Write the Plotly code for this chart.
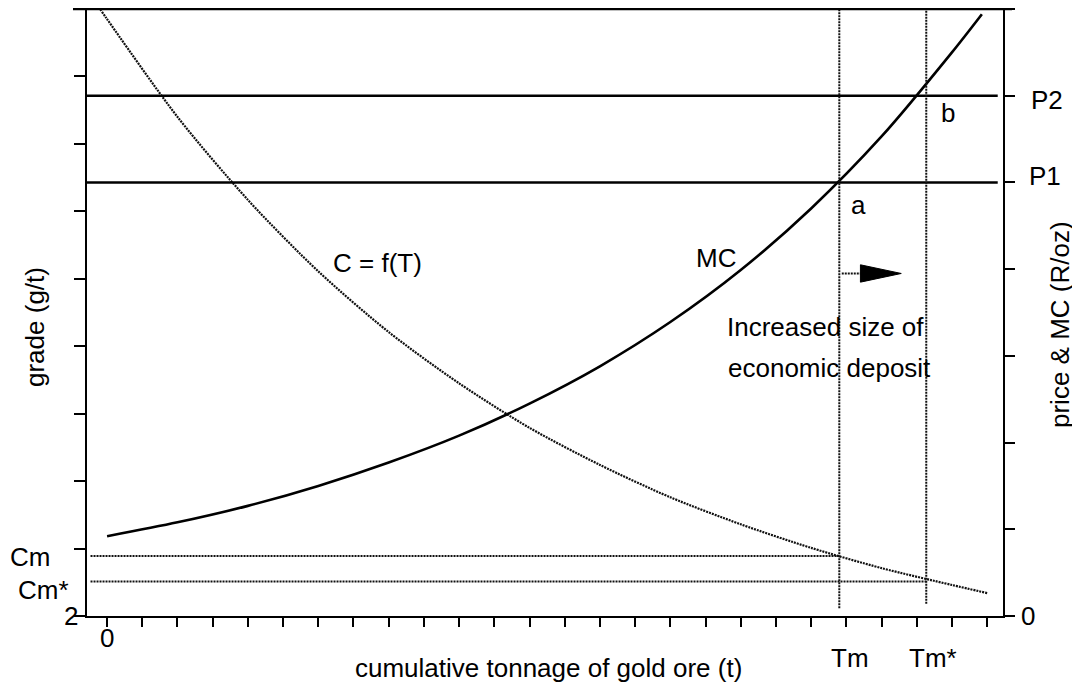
import plotly.graph_objects as go

# ---------------- data ----------------
# marginal cost curve MC (right axis, price & MC units) against tonnage T
T_MC = [0, 2, 4, 6, 8, 10, 12, 14, 16, 18, 20, 22, 24, 24.85]
MC = [0.92, 1.08, 1.27, 1.50, 1.77, 2.08, 2.45, 2.88, 3.39, 3.99, 4.70, 5.53, 6.50, 6.94]

# grade-tonnage curve C = f(T) (left axis, grade units)
T_C = [-0.2, 0, 2, 4, 6, 8, 10, 12, 14, 16, 18, 20, 22, 24, 25]
C = [11.0, 10.85, 9.40, 8.17, 7.11, 6.21, 5.45, 4.79, 4.24, 3.76, 3.36, 3.01, 2.71, 2.46, 2.34]

# reference levels
TM = 20.8
TM_STAR = 23.27
CM = 2.89
CM_STAR = 2.51
P1 = 5.0
P2 = 6.0

# axes
X_RANGE = [-0.57, 25.45]
Y_LEFT_RANGE = [2, 11]
Y_RIGHT_RANGE = [0, 7]
X_TICKS = list(range(0, 26))
Y_LEFT_TICKS = list(range(2, 12))
Y_RIGHT_TICKS = list(range(0, 8))

# ---------------- layout geometry (screen pixels) ----------------
OFF = 8                      # page body margin of the html page
W, H = 1080 - OFF, 688 - OFF
SL, SR, ST, SB = 87, 1003, 9, 616   # plot box on screen
FONT = "Liberation Sans, Arial, Helvetica, sans-serif"
FS = 26
INK = "#000000"
DOTC = "#111111"
DOT = "2px,1px"


def px(x):
    return (x - SL) / (SR - SL)


def py(y):
    return (SB - y) / (SB - ST)


fig = go.Figure()

fig.add_trace(go.Scatter(
    x=T_C, y=C, mode="lines", yaxis="y",
    line=dict(color=DOTC, width=2.2, dash=DOT, shape="spline", smoothing=0.8),
    hoverinfo="skip", showlegend=False,
))
fig.add_trace(go.Scatter(
    x=T_MC, y=MC, mode="lines", yaxis="y2",
    line=dict(color=INK, width=2.6, shape="spline", smoothing=0.8),
    hoverinfo="skip", showlegend=False,
))

shapes = []
# price lines
for p in (P1, P2):
    shapes.append(dict(type="line", xref="x", yref="y2", x0=X_RANGE[0], x1=25.3, y0=p, y1=p,
                       line=dict(color=INK, width=2.4)))
# Tm and Tm* verticals
shapes.append(dict(type="line", xref="x", yref="y2", x0=TM, x1=TM, y0=0.09, y1=Y_RIGHT_RANGE[1],
                   line=dict(color=DOTC, width=2, dash=DOT)))
shapes.append(dict(type="line", xref="x", yref="y2", x0=TM_STAR, x1=TM_STAR, y0=0.14, y1=Y_RIGHT_RANGE[1],
                   line=dict(color=DOTC, width=2, dash=DOT)))
# Cm and Cm* horizontals
shapes.append(dict(type="line", xref="x", yref="y", x0=X_RANGE[0] + 0.1, x1=TM, y0=CM, y1=CM,
                   line=dict(color=DOTC, width=2, dash=DOT)))
shapes.append(dict(type="line", xref="x", yref="y", x0=X_RANGE[0] + 0.1, x1=TM_STAR, y0=CM_STAR, y1=CM_STAR,
                   line=dict(color=DOTC, width=2, dash=DOT)))
# top border line (extends past both axes like merged ticks)
shapes.append(dict(type="line", xref="paper", yref="paper", x0=px(73), x1=px(1012), y0=1, y1=1,
                   line=dict(color=INK, width=2.4)))
# arrow: shaft + head
ARROW_Y = 3.95
ARROW_TAIL = 20.87
ARROW_HEAD = 21.4
ARROW_TIP = 22.56
ARROW_HALF = 0.1
shapes.append(dict(type="line", xref="x", yref="y2", x0=ARROW_TAIL, x1=ARROW_HEAD, y0=ARROW_Y, y1=ARROW_Y,
                   line=dict(color=DOTC, width=2, dash=DOT)))
shapes.append(dict(type="path", xref="x", yref="y2",
                   path=f"M {ARROW_HEAD},{ARROW_Y + ARROW_HALF} L {ARROW_TIP},{ARROW_Y} "
                        f"L {ARROW_HEAD},{ARROW_Y - ARROW_HALF} Z",
                   fillcolor=INK, line=dict(color=INK, width=1)))

ann = []


def text(t, x, y, size=FS, angle=0):
    ann.append(dict(text=t, x=px(x), y=py(y), xref="paper", yref="paper", showarrow=False,
                    xanchor="center", yanchor="middle", textangle=angle,
                    font=dict(family=FONT, size=size, color=INK)))


text("C = f(T)", 377, 263)
text("MC", 716, 258)
text("a", 858, 205)
text("b", 948, 113)
text("Increased size of", 825, 327)
text("economic deposit", 829, 368)
text("Cm", 30, 557)
text("Cm*", 43, 590)
text("2", 71, 616)
text("0", 107, 638)
text("0", 1028, 616)
text("Tm", 850, 658)
text("Tm*", 933, 658)
text("P2", 1047, 100)
text("P1", 1045, 176)
text("cumulative tonnage of gold ore (t)", 548, 668)
text("grade (g/t)", 35, 327, angle=-90)
text("price &amp; MC (R/oz)", 1060, 325, angle=-90)

axis_common = dict(showgrid=False, zeroline=False, showline=True, linecolor=INK, linewidth=2.4,
                   ticks="outside", tickcolor=INK, showticklabels=False)

fig.update_layout(
    width=W, height=H,
    margin=dict(l=SL - OFF, r=W - (SR - OFF), t=ST - OFF, b=H - (SB - OFF), pad=0),
    paper_bgcolor="white", plot_bgcolor="white",
    font=dict(family=FONT, size=FS, color=INK),
    showlegend=False,
    shapes=shapes,
    annotations=ann,
    xaxis=dict(range=X_RANGE, ticklen=9, tickwidth=1.8, tickvals=X_TICKS, **axis_common),
    yaxis=dict(range=Y_LEFT_RANGE, ticklen=11, tickwidth=2, tickvals=Y_LEFT_TICKS, **axis_common),
    yaxis2=dict(range=Y_RIGHT_RANGE, overlaying="y", side="right", ticklen=10, tickwidth=2,
                tickvals=Y_RIGHT_TICKS, **axis_common),
)

fig.write_html("out.html")
